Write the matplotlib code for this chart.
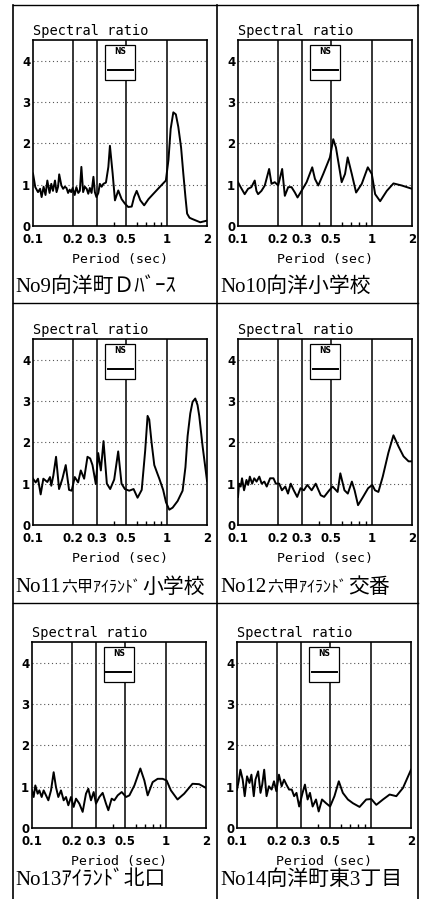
import matplotlib
matplotlib.use("Agg")
import matplotlib.pyplot as plt
from matplotlib.lines import Line2D
from matplotlib.ticker import FixedLocator, NullFormatter

W, H = 421, 899

# period (sec) / spectral ratio
no9_period = [0.100, 0.104, 0.109, 0.113, 0.116, 0.120, 0.124, 0.128, 0.133, 0.137,
              0.141, 0.146, 0.150, 0.154, 0.157, 0.163, 0.168, 0.173, 0.178, 0.183,
              0.188, 0.193, 0.198, 0.205, 0.211, 0.218, 0.224, 0.230, 0.237, 0.244,
              0.252, 0.259, 0.266, 0.274, 0.283, 0.290, 0.298, 0.308, 0.316, 0.326,
              0.336, 0.351, 0.366, 0.376, 0.394, 0.410, 0.434, 0.460, 0.487, 0.515,
              0.547, 0.570, 0.596, 0.635, 0.678, 0.730, 0.795, 0.890, 0.985, 1.03,
              1.07, 1.12, 1.17, 1.22, 1.28, 1.33, 1.38, 1.42, 1.48, 1.55,
              1.78, 2.00]
no9_ratio = [1.27, 0.94, 0.82, 0.90, 0.70, 0.95, 0.75, 1.10, 0.80, 1.02,
             0.85, 1.10, 0.82, 0.95, 1.25, 0.98, 0.90, 0.95, 0.92, 0.80,
             0.88, 0.82, 0.92, 0.75, 0.94, 0.80, 0.85, 1.43, 0.82, 0.95,
             0.90, 0.78, 0.92, 0.80, 1.19, 0.82, 0.70, 0.80, 1.02, 0.95,
             1.02, 1.05, 1.43, 1.94, 1.27, 0.62, 0.86, 0.65, 0.54, 0.46,
             0.47, 0.70, 0.85, 0.62, 0.50, 0.65, 0.78, 0.95, 1.10, 1.60,
             2.35, 2.75, 2.70, 2.40, 1.90, 1.27, 0.70, 0.30, 0.20, 0.17,
             0.09, 0.13]

no10_period = [0.100, 0.1047, 0.1122, 0.1189, 0.1259, 0.1334, 0.1373, 0.1413, 0.1497, 0.1586,
               0.1709, 0.178, 0.1884, 0.1996, 0.2139, 0.224, 0.2373, 0.2514, 0.2663, 0.2787,
               0.2985, 0.3258, 0.359, 0.3761, 0.3984, 0.434, 0.4867, 0.5156, 0.540, 0.5959,
               0.6315, 0.661, 0.7091, 0.7639, 0.8422, 0.9344, 1.0008, 1.0605, 1.1557, 1.2961,
               1.4535, 1.6762, 2.00]
no10_ratio = [1.06, 0.94, 0.77, 0.90, 0.94, 1.10, 0.85, 0.77, 0.85, 0.98,
              1.38, 1.02, 1.06, 0.98, 1.38, 0.73, 0.94, 0.94, 0.81, 0.69,
              0.85, 1.06, 1.42, 1.14, 0.98, 1.26, 1.66, 2.10, 1.90, 1.06,
              1.26, 1.66, 1.26, 0.81, 1.02, 1.42, 1.26, 0.77, 0.60, 0.85,
              1.03, 0.98, 0.90]

no11_period = [0.100, 0.1047, 0.109, 0.1141, 0.1195, 0.128, 0.134, 0.137, 0.142, 0.1487,
               0.1566, 0.1659, 0.1757, 0.186, 0.1947, 0.2052, 0.2174, 0.2277, 0.2412, 0.2555,
               0.2676, 0.2785, 0.2949, 0.3072, 0.3216, 0.3367, 0.3566, 0.3777, 0.4047, 0.4335,
               0.4592, 0.4864, 0.5243, 0.5649, 0.605, 0.65, 0.69, 0.719, 0.74, 0.77,
               0.807, 0.85, 0.88, 0.94, 0.987, 1.045, 1.107, 1.206, 1.314, 1.38,
               1.432, 1.50, 1.56, 1.634, 1.70, 1.75, 1.855, 2.00]
no11_ratio = [1.12, 1.03, 1.12, 0.74, 1.12, 1.04, 1.16, 0.95, 1.20, 1.65,
              0.87, 1.12, 1.45, 0.85, 0.83, 1.16, 1.03, 1.32, 1.12, 1.65,
              1.61, 1.45, 0.99, 1.74, 1.32, 2.03, 1.00, 0.87, 1.10, 1.78,
              1.00, 0.87, 0.83, 0.87, 0.66, 0.85, 1.80, 2.64, 2.55, 2.00,
              1.45, 1.25, 1.12, 0.85, 0.55, 0.37, 0.42, 0.58, 0.83, 1.40,
              2.15, 2.70, 2.98, 3.06, 2.90, 2.64, 1.90, 1.07]

no12_period = [0.100, 0.1018, 0.1047, 0.1072, 0.111, 0.1157, 0.1191, 0.1226, 0.1277, 0.1322,
               0.1377, 0.1443, 0.1503, 0.1574, 0.164, 0.1738, 0.1842, 0.1918, 0.2033, 0.213,
               0.2257, 0.2365, 0.2479, 0.2611, 0.277, 0.2935, 0.3109, 0.3295, 0.3554, 0.3811,
               0.4157, 0.4404, 0.4812, 0.5101, 0.5557, 0.5823, 0.6251, 0.6624, 0.7104, 0.7444,
               0.7899, 0.861, 0.9398, 1.0091, 1.0579, 1.1213, 1.2086, 1.3322, 1.4531, 1.585,
               1.729, 1.886, 2.00]
no12_ratio = [0.68, 1.00, 0.93, 1.13, 0.84, 1.09, 0.97, 1.17, 1.00, 1.13,
              1.05, 1.17, 1.00, 1.05, 0.93, 1.13, 1.13, 1.00, 1.00, 0.84,
              0.93, 0.76, 1.00, 0.84, 0.68, 0.89, 0.84, 0.97, 0.84, 1.00,
              0.72, 0.68, 0.84, 0.93, 0.80, 1.25, 0.84, 0.76, 1.05, 0.84,
              0.48, 0.68, 0.89, 0.97, 0.84, 0.80, 1.17, 1.75, 2.17, 1.90,
              1.66, 1.54, 1.54]

no13_period = [0.100, 0.1029, 0.1059, 0.1102, 0.1135, 0.1181, 0.1222, 0.1273, 0.1325, 0.1387,
               0.1452, 0.1511, 0.1573, 0.1647, 0.1725, 0.1796, 0.1869, 0.1957, 0.2049, 0.2133,
               0.2259, 0.2392, 0.2533, 0.2637, 0.2761, 0.2891, 0.301, 0.3188, 0.3376, 0.3575,
               0.3722, 0.3942, 0.4128, 0.4373, 0.4686, 0.5052, 0.535, 0.5829, 0.6458, 0.6919,
               0.7326, 0.7982, 0.870, 0.9478, 1.0148, 1.093, 1.2251, 1.3732, 1.585, 1.7761,
               2.00]
no13_ratio = [0.91, 0.75, 1.03, 0.83, 0.91, 0.75, 0.91, 0.79, 0.67, 0.91,
              1.35, 0.99, 0.75, 0.91, 0.67, 0.75, 0.55, 0.75, 0.51, 0.71,
              0.59, 0.39, 0.83, 0.95, 0.67, 0.87, 0.59, 0.75, 0.85, 0.59,
              0.43, 0.71, 0.67, 0.79, 0.87, 0.75, 0.79, 1.03, 1.44, 1.15,
              0.79, 1.11, 1.19, 1.19, 1.15, 0.91, 0.69, 0.83, 1.07, 1.06,
              0.97]

no14_period = [0.100, 0.1029, 0.106, 0.1103, 0.1142, 0.1189, 0.1239, 0.1282, 0.1335, 0.1374,
               0.1439, 0.1499, 0.1544, 0.1597, 0.1663, 0.1732, 0.1815, 0.189, 0.1969, 0.2059,
               0.2157, 0.2247, 0.2341, 0.2451, 0.2567, 0.2674, 0.2785, 0.2917, 0.3092, 0.3221,
               0.3373, 0.3513, 0.3677, 0.3898, 0.4081, 0.4322, 0.4633, 0.4967, 0.5353, 0.577,
               0.6185, 0.6746, 0.7356, 0.825, 0.9252, 1.0095, 1.1006, 1.2347, 1.3848, 1.5532,
               1.7421, 2.00]
no14_ratio = [0.93, 1.13, 1.41, 1.17, 0.77, 1.25, 1.09, 1.29, 0.77, 1.17,
              1.37, 0.85, 1.05, 1.41, 0.77, 1.01, 0.93, 1.13, 0.89, 1.29,
              1.01, 1.17, 1.05, 0.93, 0.93, 0.77, 0.85, 0.52, 0.85, 1.05,
              0.69, 0.85, 0.52, 0.69, 0.40, 0.69, 0.60, 0.52, 0.77, 1.13,
              0.85, 0.69, 0.60, 0.51, 0.69, 0.70, 0.56, 0.69, 0.81, 0.77,
              0.97, 1.41]

# captions: (text, font size) pieces, the katakana names set smaller in two of them
captions = [[("No9向洋町Ｄﾊﾞｰｽ", 15)],
            [("No10向洋小学校", 15)],
            [("No11", 15), ("六甲ｱｲﾗﾝﾄﾞ", 11.5), ("小学校", 15)],
            [("No12", 15), ("六甲ｱｲﾗﾝﾄﾞ", 11.5), ("交番", 15)],
            [("No13ｱｲﾗﾝﾄﾞ北口", 15)],
            [("No14向洋町東3丁目", 15)]]

x_ticks = [0.1, 0.2, 0.3, 0.5, 1, 2]
x_ticklabels = ["0.1", "0.2", "0.3", "0.5", "1", "2"]
y_ticks = [0, 1, 2, 3, 4]

series = [(no9_period, no9_ratio), (no10_period, no10_ratio),
          (no11_period, no11_ratio), (no12_period, no12_ratio),
          (no13_period, no13_ratio), (no14_period, no14_ratio)]

# axes boxes in pixels: left, top
boxes = [(33, 40), (238, 40), (33, 339), (238, 339), (32, 642), (237, 642)]
AX_W, AX_H = 174, 186
caption_xy = [(15, 287), (220, 287), (15, 588), (220, 588), (15, 880), (220, 880)]

mono = "DejaVu Sans Mono"
cap_family = ["Liberation Serif", "Noto Sans CJK JP"]

fig = plt.figure(figsize=(W / 100, H / 100), dpi=100)
renderer = fig.canvas.get_renderer()

for i, (per, rat) in enumerate(series):
    left, top = boxes[i]
    ax = fig.add_axes([left / W, 1 - (top + AX_H) / H, AX_W / W, AX_H / H])
    ax.set_xscale("log")
    ax.set_xlim(0.1, 2)
    ax.set_ylim(0, 4.5)

    # solid verticals at the period ticks, dotted horizontals
    for xv in [0.2, 0.3, 0.5, 1]:
        ax.axvline(xv, color="black", lw=1.1, zorder=1)
    for yv in [1, 2, 3, 4]:
        ax.axhline(yv, color="#555555", lw=0.8, ls=(0, (1, 2.5)), zorder=1)

    line, = ax.plot(per, rat, color="black", lw=1.4, zorder=3)

    ax.xaxis.set_major_locator(FixedLocator(x_ticks))
    ax.set_xticklabels(x_ticklabels)
    ax.xaxis.set_minor_locator(FixedLocator([0.4, 0.6, 0.7, 0.8, 0.9]))
    ax.xaxis.set_minor_formatter(NullFormatter())
    ax.set_yticks(y_ticks)
    ax.tick_params(axis="x", which="major", length=0, pad=5)
    ax.tick_params(axis="y", which="major", length=0, pad=2)
    ax.tick_params(axis="x", which="minor", direction="in", length=3, width=1)
    for lab in ax.get_xticklabels() + ax.get_yticklabels():
        lab.set_fontfamily("DejaVu Sans")
        lab.set_fontweight("bold")
        lab.set_fontsize(8.5)
    for sp in ax.spines.values():
        sp.set_linewidth(1.2)

    ax.text(0.0, 1.01, "Spectral ratio", transform=ax.transAxes, ha="left",
            va="bottom", family=mono, fontsize=9.8)
    ax.set_xlabel("Period (sec)", family=mono, fontsize=9.5, labelpad=5)

    leg = ax.legend([line], [""], title="NS", loc="upper center",
                    bbox_to_anchor=(0.5, 0.975), handlelength=1.8,
                    handletextpad=0, borderpad=0.2, borderaxespad=0,
                    fancybox=False, framealpha=1,
                    title_fontproperties={"family": "DejaVu Sans", "weight": "bold", "size": 5.5})
    leg.get_frame().set_edgecolor("black")
    leg.get_frame().set_linewidth(0.9)

    # caption, drawn piece by piece
    cx, cy = caption_xy[i]
    xpos = cx
    for piece, size in captions[i]:
        t = fig.text(xpos / W, 1 - cy / H, piece, ha="left", va="center",
                     fontsize=size, family=cap_family)
        xpos = t.get_window_extent(renderer).x1 + 1

# cell borders
def hline(y, x0, x1):
    fig.add_artist(Line2D([x0 / W, x1 / W], [1 - y / H, 1 - y / H], color="black", lw=1))

def vline(x, y0, y1):
    fig.add_artist(Line2D([x / W, x / W], [1 - y0 / H, 1 - y1 / H], color="black", lw=1.2))

for yb in [5, 303, 603]:
    hline(yb, 13, 418)
for xb in [13, 217, 418]:
    vline(xb, 5, 899)

fig.savefig("out.png", dpi=100)
